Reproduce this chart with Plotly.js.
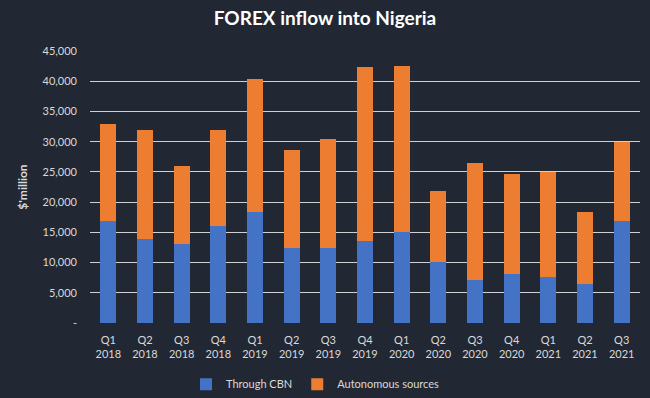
<!DOCTYPE html>
<html><head><meta charset="utf-8">
<script src="https://cdn.plot.ly/plotly-3.0.1.min.js"></script>
<style>html,body{margin:0;padding:0;background:#222833;}</style>
</head><body>
<div id="chart" style="width:650px;height:398px;"></div>
<script>
const categories = ["Q1<br>2018","Q2<br>2018","Q3<br>2018","Q4<br>2018","Q1<br>2019","Q2<br>2019","Q3<br>2019","Q4<br>2019","Q1<br>2020","Q2<br>2020","Q3<br>2020","Q4<br>2020","Q1<br>2021","Q2<br>2021","Q3<br>2021"];
const throughCBN = [16800,13850,13070,16050,18370,12400,12400,13500,15060,10100,7100,8100,7560,6450,16800];
const autonomous = [16200,18050,12830,15850,21930,16170,18100,28860,27540,11700,19400,16600,17440,11850,13200];
const yTickVals = [0,5000,10000,15000,20000,25000,30000,35000,40000,45000];
const yTickText = ["-","5,000","10,000","15,000","20,000","25,000","30,000","35,000","40,000","45,000"];

const font = "Lato, 'Open Sans', sans-serif";
const data = [
  {type:"bar", name:"Through CBN", x:categories, y:throughCBN, marker:{color:"#4472c4"}},
  {type:"bar", name:"Autonomous sources", x:categories, y:autonomous, marker:{color:"#ed7d31"}}
];
const layout = {
  width:650, height:398,
  paper_bgcolor:"#222833", plot_bgcolor:"#222833",
  barmode:"stack", bargap:0.56,
  margin:{l:90, r:10, t:51, b:75, autoexpand:false},
  title:{text:"<b>FOREX inflow into Nigeria</b>", x:0.5, xanchor:"center", y:0.955, yanchor:"middle",
         font:{family:font, size:19, color:"#ffffff"}},
  font:{family:font, color:"#d9d9d9", size:11},
  xaxis:{tickfont:{size:11, color:"#d9d9d9"}, showgrid:false, showline:false, ticks:"", zeroline:false, ticklabelstandoff:9, tickangle:0},
  yaxis:{range:[0,45000], tickvals:yTickVals, ticktext:yTickText, showgrid:true, gridcolor:"#d0d0d0", gridwidth:1,
         zeroline:false, showline:false, tickfont:{size:11, color:"#d9d9d9"}, ticks:"", ticklabelstandoff:12,
         title:{text:"<b>$'million</b>", font:{size:12, color:"#d9d9d9"}, standoff:12}},
  legend:{orientation:"h", x:0.41, xanchor:"center", y:-0.225, yanchor:"middle",
          font:{size:11, color:"#d9d9d9"}, traceorder:"normal", itemwidth:30},
  showlegend:true
};
Plotly.newPlot("chart", data, layout, {displayModeBar:false, staticPlot:true});
</script>
</body></html>
